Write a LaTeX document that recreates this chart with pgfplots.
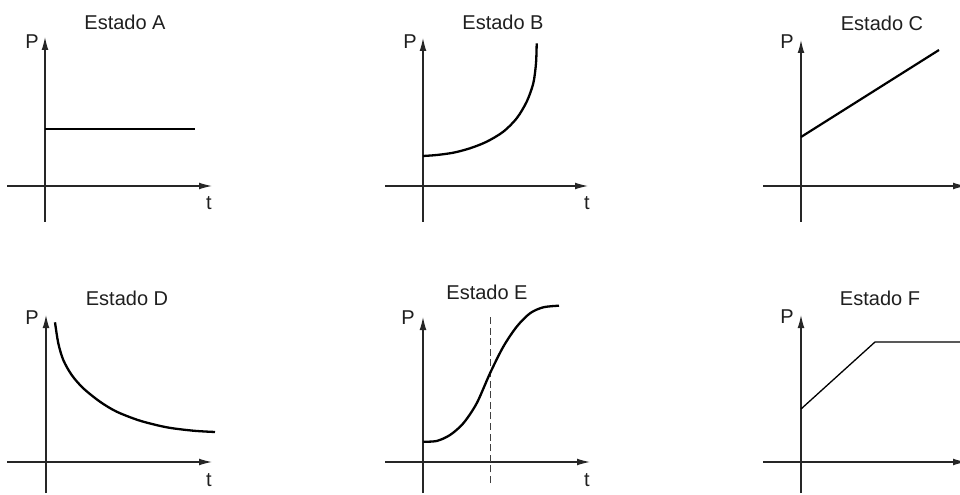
\documentclass[border=0pt]{standalone}
\usepackage{pgfplots}
\pgfplotsset{compat=1.18}
\usepackage{fontspec}
\setmainfont{Liberation Sans}
\usetikzlibrary{arrows.meta}
\pgfplotsset{
  panel/.style={
    axis lines=middle,
    every inner x axis line/.append style={-{Latex[length=6.5pt,width=3.4pt]}},
    every inner y axis line/.append style={-{Latex[length=6.5pt,width=3.4pt]}},
    axis line style={draw=black!85, line width=0.6pt},
    xtick=\empty, ytick=\empty,
    x=0.5pt, y=0.5pt,
    enlargelimits=false, clip=false,
    anchor=south west,
  },
  curve/.style={black, line width=1.15pt, line join=round, line cap=butt},
}
\tikzset{lab/.style={font=\fontsize{10pt}{12pt}\selectfont, text=black!88, inner sep=0pt}}
\begin{document}
\begin{tikzpicture}
\useasboundingbox (0,0) rectangle (480pt,247pt);
% Estado A
\begin{axis}[panel, at={(3.5pt,136pt)}, xmin=-38, xmax=167, ymin=-36, ymax=149]
\addplot[curve, line width=1.1pt] coordinates {(0,57) (150,57)};
\node[lab] at (axis cs:80,164) {Estado A};
\node[lab] at (axis cs:-13,144) {P};
\node[lab] at (axis cs:164,-17) {t};
\end{axis}
% Estado B
\begin{axis}[panel, at={(192.5pt,136pt)}, xmin=-38, xmax=165, ymin=-36, ymax=148]
\addplot[curve, smooth] coordinates {(0,30) (13.7,31) (30.3,33.3) (47,37.7) (63.7,44.3) (80.3,54.3) (93.7,67.7) (103.7,84.3) (110.3,102.7) (113,122.7) (113.7,142.7)};
\node[lab] at (axis cs:80,164) {Estado B};
\node[lab] at (axis cs:-13,144) {P};
\node[lab] at (axis cs:164,-17) {t};
\end{axis}
% Estado C
\begin{axis}[panel, at={(381.5pt,136pt)}, xmin=-38, xmax=165, ymin=-36, ymax=146]
\addplot[curve, line width=1.1pt] coordinates {(0,49) (138,136)};
\node[lab] at (axis cs:81,163) {Estado C};
\node[lab] at (axis cs:-14,144) {P};
\end{axis}
% Estado D
\begin{axis}[panel, at={(3.5pt,0.5pt)}, xmin=-39, xmax=166, ymin=-31, ymax=147]
\addplot[curve, smooth] coordinates {(9,139.7) (12.3,118.7) (17.3,102) (25.7,87) (37.3,73.7) (54,60.3) (70.7,50.3) (94,41.3) (120.7,34.7) (147.3,31.3) (169,30)};
\node[lab] at (axis cs:81,164) {Estado D};
\node[lab] at (axis cs:-14,144) {P};
\node[lab] at (axis cs:163,-18) {t};
\end{axis}
% Estado E
\begin{axis}[panel, at={(192.5pt,0.5pt)}, xmin=-38, xmax=167, ymin=-31, ymax=145]
\addplot[black!75, line width=0.5pt, dash pattern=on 3.5pt off 1.8pt] coordinates {(67,-21) (67,145)};
\addplot[curve, smooth] coordinates {(0.3,20.3) (13.7,21) (27,27) (40.3,38.7) (53.7,58.7) (67,88.7) (80.3,115.3) (93.7,135.3) (107,148.7) (120.3,154.7) (136,156.3)};
\node[lab] at (axis cs:64,170) {Estado E};
\node[lab] at (axis cs:-15,144) {P};
\node[lab] at (axis cs:164,-18) {t};
\end{axis}
% Estado F
\begin{axis}[panel, at={(381.5pt,0.5pt)}, xmin=-38, xmax=165, ymin=-31, ymax=147]
\addplot[black, line width=0.65pt] coordinates {(0,53) (74,120) (175,120)};
\node[lab] at (axis cs:79,164) {Estado F};
\node[lab] at (axis cs:-14,145) {P};
\end{axis}
\end{tikzpicture}
\end{document}
